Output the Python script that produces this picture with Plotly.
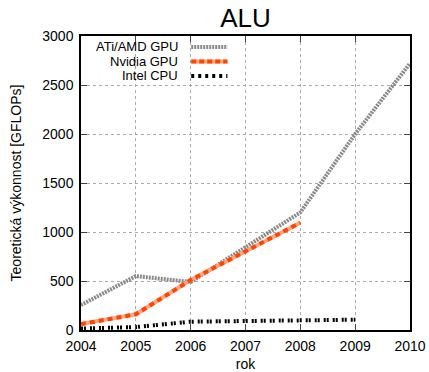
import plotly.graph_objects as go

years = [2004, 2005, 2006, 2007, 2008, 2009, 2010]
ati = [255, 550, 490, 850, 1200, 2000, 2720]
nvidia_years = [2004, 2005, 2006, 2007, 2008]
nvidia = [60, 160, 510, 800, 1095]
intel_years = [2004, 2005, 2006, 2007, 2008, 2009]
intel = [15, 30, 85, 95, 100, 105]
names = ["ATi/AMD GPU", "Nvidia GPU", "Intel CPU"]

FONT = "Liberation Sans, Arial, sans-serif"
fig = go.Figure()
fig.add_trace(go.Scatter(x=years, y=ati, mode="lines", name=names[0], showlegend=False,
                         line=dict(color="#8a8a8a", width=4, dash="2px,1px")))
fig.add_trace(go.Scatter(x=nvidia_years, y=nvidia, mode="lines", showlegend=False,
                         line=dict(color="#ffa47a", width=4)))
fig.add_trace(go.Scatter(x=nvidia_years, y=nvidia, mode="lines", name=names[1], showlegend=False,
                         line=dict(color="#ff4500", width=4, dash="5px,4px")))
fig.add_trace(go.Scatter(x=intel_years, y=intel, mode="lines", name=names[2], showlegend=False,
                         line=dict(color="#000000", width=4, dash="2px,1px,2px,4px")))

# custom gnuplot-like legend
leg_y = [0.963, 0.913, 0.864]
samples = [dict(color="#8a8a8a", width=4, dash="2px,1px"),
           dict(color="#ff4500", width=4, dash="5px,3px"),
           dict(color="#000000", width=4, dash="3px,4px")]
for n, yy, st in zip(names, leg_y, samples):
    fig.add_annotation(x=0.30, y=yy, xref="paper", yref="paper", text=n, showarrow=False,
                       xanchor="right", yanchor="middle", font=dict(size=13, family=FONT, color="black"))
    if n == names[1]:
        fig.add_shape(type="line", xref="paper", yref="paper", x0=0.335, x1=0.445, y0=yy, y1=yy,
                      line=dict(color="#ffa47a", width=4))
    fig.add_shape(type="line", xref="paper", yref="paper", x0=0.335, x1=0.445, y0=yy, y1=yy, line=st)

fig.update_layout(
    width=429, height=372,
    margin=dict(l=81, r=19, t=36, b=42),
    paper_bgcolor="white", plot_bgcolor="white",
    font=dict(family=FONT, size=14, color="black"),
    title=dict(text="ALU", x=0.5, xref="paper", yref="container", y=0.952, yanchor="middle",
               font=dict(size=26, family=FONT)),
    xaxis=dict(range=[2004, 2010], tickvals=years, ticks="inside", ticklen=6, mirror="ticks",
               showline=True, linecolor="black", linewidth=1.5, ticklabelstandoff=2,
               automargin=False,
               showgrid=True, gridcolor="#aaa", griddash="dot", gridwidth=1, zeroline=False,
               title=dict(text="rok", standoff=7, font=dict(size=14))),
    yaxis=dict(range=[0, 3000], tickvals=[0, 500, 1000, 1500, 2000, 2500, 3000], ticks="inside",
               ticklen=6, mirror="ticks", showline=True, linecolor="black", linewidth=1.5,
               ticklabelstandoff=3, automargin=False,
               showgrid=True, gridcolor="#aaa", griddash="dot", gridwidth=1, zeroline=False,
               title=dict(text="Teoretická výkonnost [GFLOPs]", standoff=17, font=dict(size=14))),
)
fig.write_html("out.html")
